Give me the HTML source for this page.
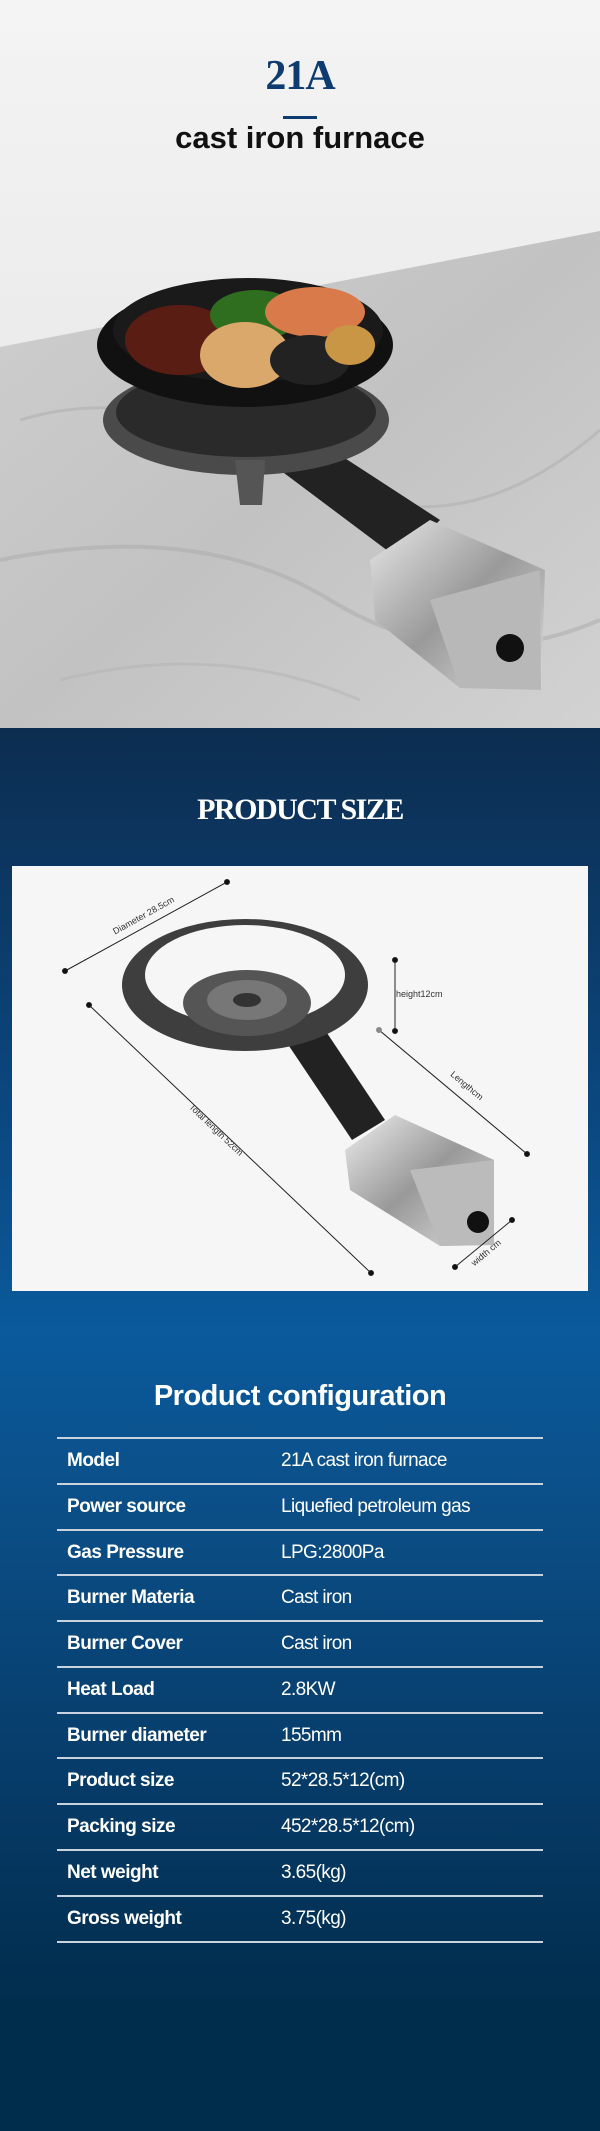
<!DOCTYPE html>
<html><head><meta charset="utf-8"><style>
*{margin:0;padding:0;box-sizing:border-box}
html,body{width:600px;height:2131px;overflow:hidden}
body{position:relative;font-family:"Liberation Sans",sans-serif;
background:linear-gradient(to bottom,#0c2d50 728px,#0b4a84 1150px,#0a5a9c 1330px,#0b4f88 1500px,#063a66 1800px,#012d4d 2000px,#012d4d 2131px)}
.abs{position:absolute}
.top{left:0;top:0;width:600px;height:728px}
.t1{left:0;width:600px;top:52px;text-align:center;font-family:"Liberation Serif",serif;font-weight:bold;font-size:42px;color:#0e3c70;letter-spacing:-1px}
.ul{left:283px;top:116px;width:34px;height:3px;background:#0e3c70}
.t2{left:0;width:600px;top:120px;text-align:center;font-weight:bold;font-size:31px;color:#111}
.ps{left:0;width:600px;top:793px;text-align:center;font-family:"Liberation Serif",serif;font-weight:bold;font-size:30px;color:#fff;letter-spacing:-1.5px}
.box{left:12px;top:866px;width:576px;height:425px;background:#f6f6f6}
.pc{left:0;width:600px;top:1380px;text-align:center;font-weight:bold;font-size:29px;color:#fff;letter-spacing:-0.5px}
.row{left:57px;width:486px;height:46px;border-top:2px solid #c9d3de}
.row span{position:absolute;top:11px;font-size:19px;color:#fff}
.row .k{left:10px;font-weight:bold;letter-spacing:-0.5px}
.row .v{left:224px;letter-spacing:-0.6px}
</style></head><body>
<svg class="abs top" width="600" height="728" viewBox="0 0 600 728">
<defs>
<linearGradient id="sky" x1="0" y1="0" x2="0" y2="1"><stop offset="0" stop-color="#f4f4f4"/><stop offset="1" stop-color="#e2e2e2"/></linearGradient>
<linearGradient id="marb" x1="0" y1="0" x2="1" y2="1"><stop offset="0" stop-color="#cfcfcf"/><stop offset="0.5" stop-color="#c2c2c2"/><stop offset="1" stop-color="#d2d2d2"/></linearGradient>
<linearGradient id="silver" x1="0" y1="0" x2="1" y2="1"><stop offset="0" stop-color="#e8e8e8"/><stop offset="0.5" stop-color="#9a9a9a"/><stop offset="1" stop-color="#dcdcdc"/></linearGradient>
</defs>
<rect width="600" height="728" fill="url(#sky)"/>
<polygon points="0,347 600,231 600,728 0,728" fill="url(#marb)"/>
<path d="M20,420 Q150,380 300,470 T600,430" stroke="#b0b0b0" stroke-width="3" fill="none" opacity=".6"/>
<path d="M0,560 Q200,520 330,600 T600,620" stroke="#aaa" stroke-width="4" fill="none" opacity=".5"/>
<path d="M60,680 Q220,640 360,700" stroke="#b5b5b5" stroke-width="3" fill="none" opacity=".6"/>
<!-- arm -->
<polygon points="280,470 340,455 440,520 400,560" fill="#222"/>
<!-- burner ring -->
<ellipse cx="246" cy="420" rx="143" ry="55" fill="#4a4a4a"/>
<ellipse cx="246" cy="412" rx="130" ry="45" fill="#2a2a2a"/>
<path d="M235,460 L265,460 L262,505 L240,505 Z" fill="#555"/>
<!-- pot -->
<ellipse cx="245" cy="345" rx="148" ry="62" fill="#111"/>
<ellipse cx="248" cy="330" rx="135" ry="52" fill="#1a1a1a"/>
<ellipse cx="180" cy="340" rx="55" ry="35" fill="#5a1d14"/>
<ellipse cx="255" cy="315" rx="45" ry="25" fill="#2f6e1f"/>
<ellipse cx="315" cy="312" rx="50" ry="25" fill="#d97a4a"/>
<ellipse cx="245" cy="355" rx="45" ry="33" fill="#d9a86a"/>
<ellipse cx="310" cy="360" rx="40" ry="25" fill="#222"/>
<ellipse cx="350" cy="345" rx="25" ry="20" fill="#c99646"/>
<!-- control box -->
<polygon points="370,560 430,520 545,570 541,690 460,688 375,620" fill="url(#silver)"/>
<polygon points="430,600 540,570 541,690 460,688" fill="#b8b8b8"/>
<circle cx="510" cy="648" r="14" fill="#111"/>
</svg>
<div class="abs t1">21A</div>
<div class="abs ul"></div>
<div class="abs t2">cast iron furnace</div>

<div class="abs ps">PRODUCT SIZE</div>
<div class="abs box"></div>
<svg class="abs" style="left:0;top:0" width="600" height="1300" viewBox="0 0 600 1300">
<defs><linearGradient id="sl2" x1="0" y1="0" x2="1" y2="1"><stop offset="0" stop-color="#eee"/><stop offset="0.5" stop-color="#999"/><stop offset="1" stop-color="#ddd"/></linearGradient></defs>
<polygon points="285,1040 325,1030 385,1120 352,1140" fill="#222"/>
<ellipse cx="245" cy="985" rx="123" ry="66" fill="#3e3e3e"/>
<ellipse cx="245" cy="975" rx="100" ry="50" fill="#f6f6f6"/>
<ellipse cx="247" cy="1003" rx="64" ry="33" fill="#555"/>
<ellipse cx="247" cy="1000" rx="40" ry="20" fill="#777"/>
<ellipse cx="247" cy="1000" rx="14" ry="7" fill="#333"/>
<polygon points="345,1150 395,1115 494,1160 494,1245 440,1246 350,1190" fill="url(#sl2)"/>
<polygon points="410,1170 494,1160 494,1245 440,1246" fill="#bbb"/>
<circle cx="478" cy="1222" r="11" fill="#111"/>
<g stroke="#222" stroke-width="1" fill="#111">
<line x1="65" y1="971" x2="227" y2="882"/><circle cx="65" cy="971" r="2.5"/><circle cx="227" cy="882" r="2.5"/>
<line x1="395" y1="960" x2="395" y2="1031"/><circle cx="395" cy="960" r="2.5"/><circle cx="395" cy="1031" r="2.5"/>
<line x1="379" y1="1030" x2="527" y2="1154"/><circle cx="379" cy="1030" r="2.5" fill="#888" stroke="#888"/><circle cx="527" cy="1154" r="2.5"/>
<line x1="89" y1="1005" x2="371" y2="1273"/><circle cx="89" cy="1005" r="2.5"/><circle cx="371" cy="1273" r="2.5"/>
<line x1="455" y1="1267" x2="512" y2="1220"/><circle cx="455" cy="1267" r="2.5"/><circle cx="512" cy="1220" r="2.5"/>
</g>
<g font-family="Liberation Sans,sans-serif" font-size="9" fill="#333">
<text x="145" y="918" text-anchor="middle" transform="rotate(-29 145 918)">Diameter  28.5cm</text>
<text x="396" y="997">height12cm</text>
<text x="465" y="1088" text-anchor="middle" transform="rotate(40 465 1088)">Lengthcm</text>
<text x="214" y="1132" text-anchor="middle" transform="rotate(43.6 214 1132)">Total length 52cm</text>
<text x="488" y="1255" text-anchor="middle" transform="rotate(-40 488 1255)">width cm</text>
</g>
</svg>

<div class="abs pc">Product configuration</div>
<div class="abs row" style="top:1437px"><span class="k">Model</span><span class="v">21A cast iron furnace</span></div>
<div class="abs row" style="top:1483px"><span class="k">Power source</span><span class="v">Liquefied petroleum gas</span></div>
<div class="abs row" style="top:1529px"><span class="k">Gas Pressure</span><span class="v">LPG:2800Pa</span></div>
<div class="abs row" style="top:1574px"><span class="k">Burner Materia</span><span class="v">Cast iron</span></div>
<div class="abs row" style="top:1620px"><span class="k">Burner Cover</span><span class="v">Cast iron</span></div>
<div class="abs row" style="top:1666px"><span class="k">Heat Load</span><span class="v">2.8KW</span></div>
<div class="abs row" style="top:1712px"><span class="k">Burner diameter</span><span class="v">155mm</span></div>
<div class="abs row" style="top:1757px"><span class="k">Product size</span><span class="v">52*28.5*12(cm)</span></div>
<div class="abs row" style="top:1803px"><span class="k">Packing size</span><span class="v">452*28.5*12(cm)</span></div>
<div class="abs row" style="top:1849px"><span class="k">Net weight</span><span class="v">3.65(kg)</span></div>
<div class="abs row" style="top:1895px"><span class="k">Gross weight</span><span class="v">3.75(kg)</span></div>
<div class="abs" style="left:57px;top:1941px;width:486px;height:2px;background:#c9d3de"></div>
</body></html>
